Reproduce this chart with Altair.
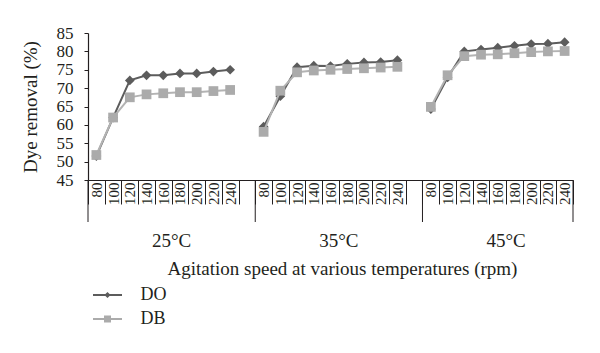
import altair as alt
import pandas as pd

# ---------------- data ----------------
rpm = [80, 100, 120, 140, 160, 180, 200, 220, 240]
temps = ["25°C", "35°C", "45°C"]
series_names = ["DO", "DB"]
series_colors = ["#5c5c5c", "#ababab"]

do_25 = [51.5, 62.0, 72.1, 73.5, 73.5, 74.0, 74.0, 74.5, 75.0]
db_25 = [51.8, 62.0, 67.5, 68.3, 68.6, 68.9, 68.9, 69.2, 69.5]
do_35 = [59.5, 67.8, 75.7, 76.1, 76.0, 76.6, 77.0, 77.1, 77.6]
db_35 = [58.1, 69.3, 74.3, 74.8, 75.0, 75.2, 75.4, 75.6, 75.8]
do_45 = [64.3, 72.9, 80.0, 80.5, 81.0, 81.5, 82.0, 82.1, 82.5]
db_45 = [64.9, 73.5, 78.7, 79.1, 79.2, 79.5, 79.8, 80.0, 80.1]

y_ticks = [45, 50, 55, 60, 65, 70, 75, 80, 85]

values = {
    ("DO", "25°C"): do_25, ("DB", "25°C"): db_25,
    ("DO", "35°C"): do_35, ("DB", "35°C"): db_35,
    ("DO", "45°C"): do_45, ("DB", "45°C"): db_45,
}

rows = []
for t in temps:
    for s in series_names:
        for r, v in zip(rpm, values[(s, t)]):
            rows.append({"temp": t, "rpm": r, "series": s, "value": v, "slot": f"{t}|{r}"})
df = pd.DataFrame(rows)

# category slots: 9 per temperature, with a blank slot between groups
domain = []
for i, t in enumerate(temps):
    domain += [f"{t}|{r}" for r in rpm]
    if i < len(temps) - 1:
        domain.append(f"gap{i}")

group_labels = pd.DataFrame({"temp": temps, "slot": [f"{t}|{rpm[4]}" for t in temps]})
sep_start = pd.DataFrame({"slot": [f"{t}|{rpm[0]}" for t in temps]})
sep_end = pd.DataFrame({"slot": [f"{temps[-1]}|{rpm[-1]}"]})

# ---------------- style ----------------
F = "Liberation Serif"
INK = "#231f20"
W, H = 485, 147

x_axis = alt.Axis(
    title="Agitation speed at various temperatures (rpm)",
    labelExpr="isString(datum.value) && indexof(datum.value,'|')>=0 ? split(datum.value,'|')[1] : ''",
    labelAngle=270, labelFont=F, labelFontSize=15, labelColor=INK,
    labelPadding=-22, labelOverlap=False,
    tickSize=24, tickBand="extent", tickColor=INK, tickWidth=1,
    domainColor=INK, domainWidth=1.2, grid=False,
    titleFont=F, titleFontSize=19, titleFontWeight="normal", titleColor=INK,
    titleX=254, titleY=88, titleBaseline="middle",
)
x_scale = alt.Scale(type="band", domain=domain, paddingInner=0, paddingOuter=0)


def X(band=0.5):
    return alt.X("slot:N", scale=x_scale, bandPosition=band, axis=x_axis)


Y = alt.Y(
    "value:Q",
    scale=alt.Scale(domain=[45, 85], nice=False, zero=False),
    axis=alt.Axis(
        values=y_ticks, title="Dye removal (%)", grid=False,
        ticks=True, tickSize=4, tickColor=INK, tickWidth=1,
        labelFont=F, labelFontSize=17, labelColor=INK, labelPadding=11,
        domainColor=INK, domainWidth=1.2,
        titleFont=F, titleFontSize=19, titleFontWeight="normal", titleColor=INK,
        titleX=-58, titleBaseline="middle",
    ),
)

# legend symbols: a short line with the marker on it
do_path = "M-2.9,-0.18H2.9V0.18H-2.9Z M0,-0.62L0.62,0L0,0.62L-0.62,0Z"
db_path = "M-2.9,-0.18H2.9V0.18H-2.9Z M-0.7,-0.7H0.7V0.7H-0.7Z"

legend = alt.Legend(
    orient="none", legendX=10.5, legendY=253, title=None, padding=0,
    labelFont=F, labelFontSize=18, labelColor=INK, labelOffset=24,
    symbolSize=100, symbolStrokeWidth=0, rowPadding=6,
)

base = alt.Chart(df)

do_line = base.transform_filter(alt.datum.series == "DO").mark_line(
    color=series_colors[0], strokeWidth=2
).encode(x=X(), y=Y, detail="temp:N")
do_pts = base.transform_filter(alt.datum.series == "DO").mark_point(
    shape="diamond", filled=True, size=95, opacity=1, color=series_colors[0]
).encode(x=X(), y=Y)
db_line = base.transform_filter(alt.datum.series == "DB").mark_line(
    color="#b3b3b3", strokeWidth=2
).encode(x=X(), y=Y, detail="temp:N")
db_pts = base.transform_filter(alt.datum.series == "DB").mark_point(
    shape="square", filled=True, size=95, opacity=1, color=series_colors[1]
).encode(x=X(), y=Y)

# legend-only layer (draws no rows; the legend comes from the scale domains)
legend_layer = base.transform_filter("false").mark_point(filled=True, opacity=1).encode(
    x=X(), y=Y,
    color=alt.Color("series:N", scale=alt.Scale(domain=series_names, range=series_colors), legend=legend),
    shape=alt.Shape("series:N", scale=alt.Scale(domain=series_names, range=[do_path, db_path]), legend=legend),
)

seps1 = alt.Chart(sep_start).mark_rule(color=INK, strokeWidth=1).encode(
    x=X(0), y=alt.value(H), y2=alt.value(H + 42)
)
seps2 = alt.Chart(sep_end).mark_rule(color=INK, strokeWidth=1).encode(
    x=X(1), y=alt.value(H), y2=alt.value(H + 42)
)
glabels = alt.Chart(group_labels).mark_text(
    font=F, fontSize=19, color=INK, baseline="middle", align="center"
).encode(x=X(1), y=alt.value(H + 61), text="temp:N")

chart = alt.layer(do_line, do_pts, db_line, db_pts, legend_layer, seps1, seps2, glabels).properties(
    width=W, height=H,
    padding={"left": 88, "top": 33, "right": 27, "bottom": 173},
    autosize=alt.AutoSizeParams(type="none"),
    background="white",
).configure_view(stroke="transparent")

chart.save("out.html", embed_options={"renderer": "svg", "actions": False})
